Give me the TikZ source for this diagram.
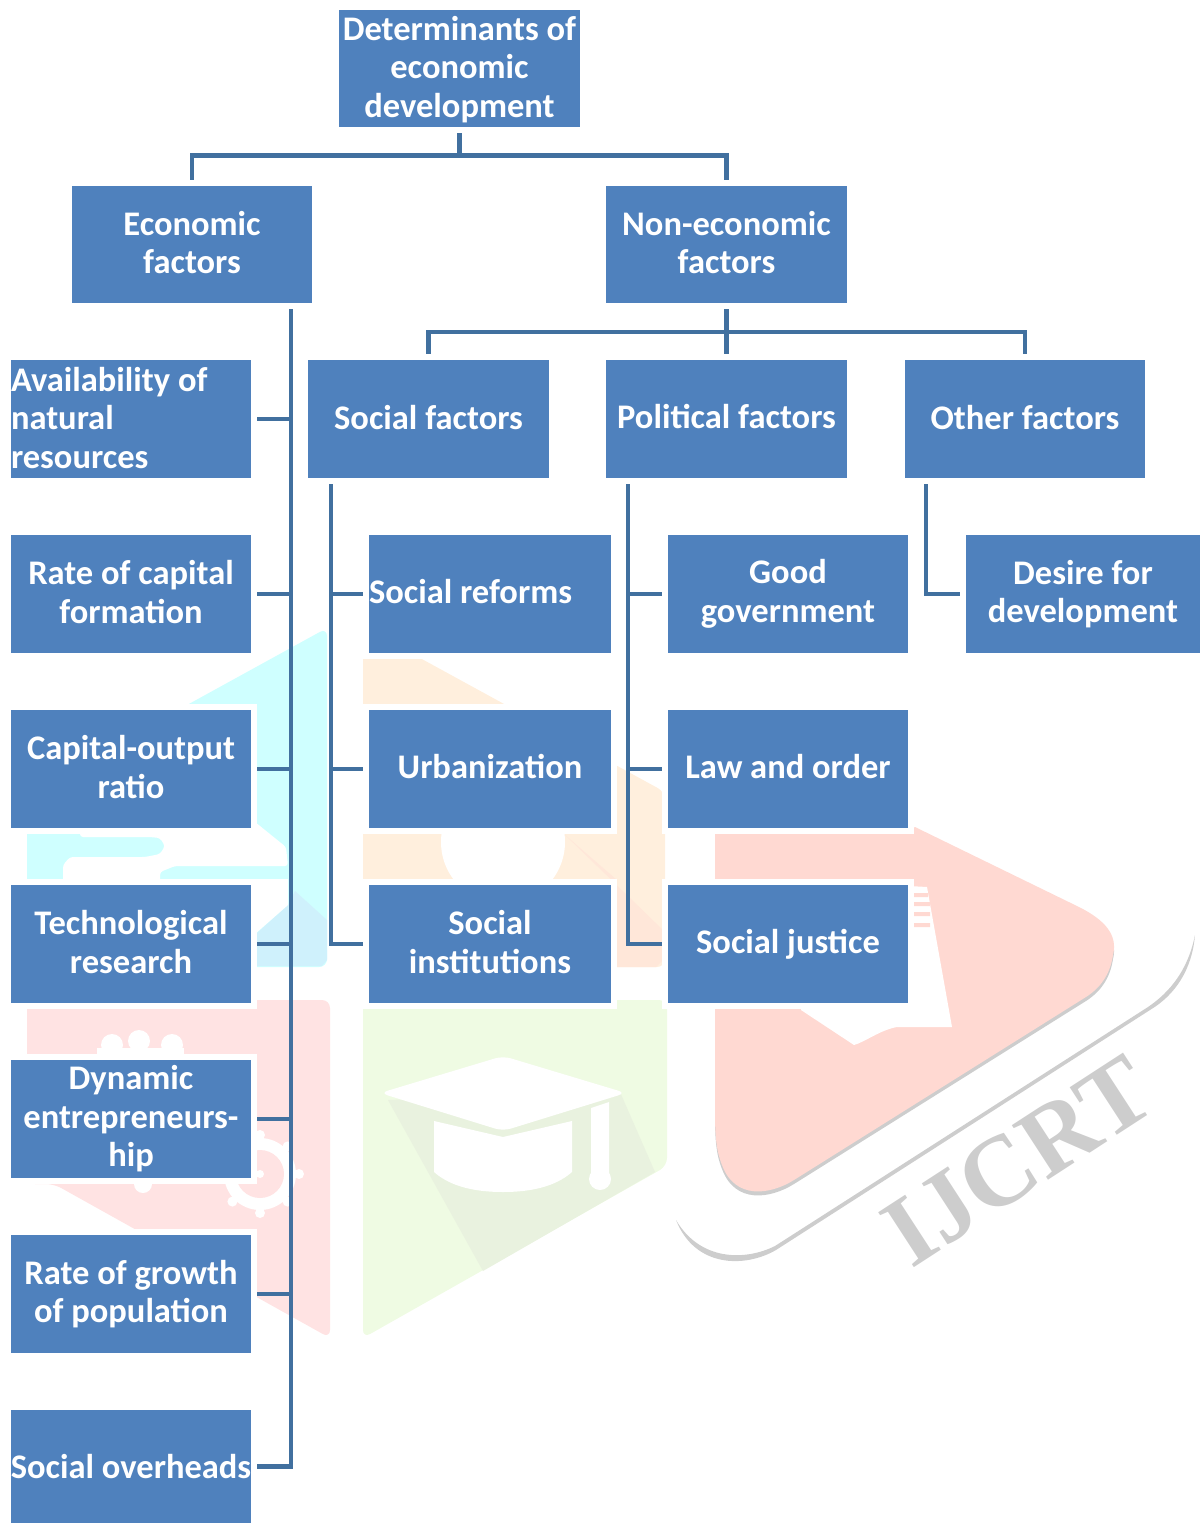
\documentclass[tikz,border=0pt]{standalone}
\usepackage{fontspec}
\setmainfont{Carlito}
\newfontfamily\wmfont{Liberation Serif}
\definecolor{boxblue}{HTML}{4F81BD}
\definecolor{linkblue}{HTML}{41709F}
\definecolor{wmcyan}{HTML}{CFFFFF}
\definecolor{wmcyand}{HTML}{CFF1FC}
\definecolor{wmorange}{HTML}{FFEFDD}
\definecolor{wmoranged}{HTML}{FFE7D9}
\definecolor{wmpink}{HTML}{FFE3E3}
\definecolor{wmgreen}{HTML}{EFFBE3}
\definecolor{wmgreend}{HTML}{E9F2DF}
\definecolor{wmsalmon}{HTML}{FFD9D2}
\definecolor{wmgrey}{HTML}{CDCDCD}
\tikzset{
  boxnode/.style={rectangle,fill=boxblue,draw=none,inner sep=0pt,text=white,align=center,
    font=\fontsize{34.5}{38.5}\selectfont\bfseries,
    preaction={draw=white,line width=12pt}},
  link/.style={draw=linkblue,line width=4.5pt,line join=miter},
  gapA/.style={shorten <=6pt},
  gapB/.style={shorten >=6pt},
  gapAB/.style={shorten <=6pt,shorten >=6pt}
}
\newcommand\bx[6]{%
  \node[boxnode,minimum width=#4pt-#2pt,minimum height=#5pt-#3pt] (#1) at ({(#2+#4)/2},{(#3+#5)/2}) {#6};}
\newcommand\bxl[6]{%
  \node[boxnode,align=flush left,text width=#4pt-#2pt,minimum height=#5pt-#3pt] (#1) at ({(#2+#4)/2},{(#3+#5)/2}) {#6};}
% invisible struts that trim the vertical position of a label in its box
\newcommand\up[1]{\rule[-#1pt]{0pt}{#1pt}}
\newcommand\dn[1]{\rule{0pt}{#1pt}}
\begin{document}
\begin{tikzpicture}[x=1pt,y=-1pt]
\useasboundingbox (0,0) rectangle (1200,1523);
% ---- watermark ----
% cyan tile
\fill[wmcyan,rounded corners=8pt] (327,628) -- (27,793) -- (27,967) -- (327,967) -- cycle;
\fill[wmcyand] (295,891) -- (327,920) -- (327,960) -- (322,966) -- (256,966) -- (256,934) -- (288,905) -- cycle;
\fill[white,rounded corners=3pt] (63,885) -- (63,865) -- (70,857) -- (145,857) -- (160,854) -- (165,846) -- (160,838) -- (150,837) -- (80,837) -- (80,826) -- (255,822) -- (286,847) -- (288,866) -- (175,866) -- (160,872) -- (160,885) -- cycle;
\fill[white] (160,879) -- (288,879) -- (288,905) -- (255,934) -- (255,885) -- (160,885) -- cycle;
% orange tile
\fill[wmorange] (363,629) -- (363,658) -- (420,658) [rounded corners=8pt] -- (665,792) -- (665,967) -- (363,967) [sharp corners] -- cycle;
\fill[wmoranged] (564,834) -- (663,930) -- (663,960) -- (656,967) -- (617,967) -- (617,880) -- cycle;
\fill[white] (503,842) circle (62pt);
% pink tile
\fill[wmpink,rounded corners=8pt] (27,1000) -- (330,1000) -- (330,1338) -- (54,1184) -- (27,1184) -- cycle;
\fill[white] (112,1045) circle (11pt) (139,1041) circle (11pt) (172,1045) circle (11pt);
\fill[white] (97,1048) rectangle (184,1062);
\fill[white] (143,1184) circle (9pt);
\fill[white] (260,1174) circle (36pt);
\foreach \a in {0,45,...,315}{\fill[white] (260,1174) ++(\a:39pt) circle (5pt);}
\fill[wmpink] (260,1174) circle (24pt);
\fill[white] (260,1174) circle (4pt);
% green tile
\fill[wmgreen,rounded corners=8pt] (363,1000) -- (667,1000) -- (667,1166) -- (363,1338) -- cycle;
\fill[wmgreend] (388,1100) -- (483,1271) -- (655,1172) -- (620,1092) -- cycle;
\fill[white,rounded corners=8pt] (380,1093) -- (503,1056) -- (626,1093) -- (503,1131) -- cycle;
\fill[white] (434,1121) -- (503,1137) -- (572,1121) -- (572,1172) .. controls (555,1187) and (530,1192) .. (503,1192) .. controls (476,1192) and (451,1187) .. (434,1172) -- cycle;
\fill[white] (591,1108) -- (609,1102) -- (609,1178) -- (591,1178) -- cycle;
\fill[white] (600,1179) circle (11pt);
% salmon play shape, its shadow and swoosh
\begin{scope}[yshift=-4pt]
\fill[wmgrey] (715,833) -- (905,833) -- (915,827) -- (1079,907) .. controls (1105,920) and (1118,935) .. (1113,955) .. controls (1110,975) and (1100,988) .. (1086,997) -- (794,1180) .. controls (770,1195) and (735,1200) .. (722,1165) .. controls (716,1150) and (715,1135) .. (715,1110) -- cycle;
\end{scope}
\fill[wmsalmon] (715,833) -- (905,833) -- (915,827) -- (1079,907) .. controls (1105,920) and (1118,935) .. (1113,955) .. controls (1110,975) and (1100,988) .. (1086,997) -- (794,1180) .. controls (770,1195) and (735,1200) .. (722,1165) .. controls (716,1150) and (715,1135) .. (715,1110) -- cycle;
\fill[wmgrey] (1195,935) .. controls (1192,970) and (1175,995) .. (1150,1010) -- (776,1250) .. controls (745,1268) and (695,1268) .. (676,1220) .. controls (700,1261) and (745,1261) .. (775,1246) -- (1148,1007) .. controls (1170,992) and (1188,970) .. (1195,935) -- cycle;
\fill[white] (800,880) -- (927,887) -- (952,1027) -- (897,1027) .. controls (880,1030) and (865,1042) .. (854,1045) -- (801,1010) -- cycle;
\fill[wmsalmon] (914,893) rectangle (928,897) (914,902) rectangle (930,906) (914,912) rectangle (930,916) (914,923) rectangle (930,927);
\node[text=wmgrey,font=\wmfont\fontsize{100}{100}\selectfont\bfseries,rotate=33,inner sep=0pt] (wm) at (1018,1161) {IJCRT};
% ---- boxes ----
\bx{root}{339}{10}{580}{127}{\dn{26}Determinants of\\economic\\development}
\bx{eco}{72}{186}{312}{303}{Economic\\factors\up{4.5}}
\bx{non}{606}{186}{847}{303}{Non-economic\\factors\up{4.5}}
\bx{soc}{308}{360}{549}{478}{Social factors\up{2.5}}
\bx{pol}{606}{360}{847}{478}{Political factors\up{4.5}}
\bx{oth}{905}{360}{1145}{478}{Other factors\up{2.5}}
\bxl{nat}{11}{360}{251}{478}{Availability of\\natural\\resources\up{2.5}}
\bx{cap}{11}{535}{251}{653}{Rate of capital\\formation\up{4.5}}
\bx{cor}{11}{710}{251}{828}{Capital-output\\ratio\up{4.5}}
\bx{tec}{11}{885}{251}{1003}{Technological\\research\up{4.5}}
\bx{dyn}{11}{1060}{251}{1178}{\dn{24}Dynamic\\entrepreneurs-\\hip}
\bx{gro}{11}{1235}{251}{1353}{Rate of growth\\of population}
\bx{ove}{11}{1410}{251}{1523}{Social overheads}
\bxl{ref}{369}{535}{611}{653}{Social reforms\up{4.5}}
\bx{urb}{369}{710}{611}{828}{Urbanization\up{4.5}}
\bx{ins}{369}{885}{611}{1003}{Social\\institutions\up{4.5}}
\bx{gov}{668}{535}{908}{653}{\dn{24}Good\\government}
\bx{law}{668}{710}{908}{828}{Law and order\up{4.5}}
\bx{jus}{668}{885}{908}{1003}{Social justice}
\bx{des}{966}{535}{1200}{653}{Desire for\\development}
% ---- connectors ----
\coordinate (rootbar) at (459.5,155.5);
\coordinate (nonbar) at (726.5,332);
\coordinate (trunk) at (291,303);
\coordinate (socbar) at (331,478);
\coordinate (polbar) at (628,478);
\coordinate (othbar) at (926,478);
\draw[link,gapA] (root.south) -- (rootbar);
\draw[link,gapAB] (eco.north) |- (rootbar) -| (non.north);
\draw[link,gapA] (non.south) -- (nonbar);
\draw[link,gapB] (nonbar) -- (pol.north);
\draw[link,gapAB] (soc.north) |- (nonbar) -| (oth.north);
\draw[link,gapA] (trunk) -- (trunk |- ove.east) -- ([xshift=6pt]ove.east);
\foreach \n in {nat,cap,cor,tec,dyn,gro}{\draw[link,gapA] (\n.east) -- (\n.east -| trunk);}
\draw[link,gapAB] (socbar) |- (ins.west);
\foreach \n in {ref,urb}{\draw[link,gapB] (\n.west -| socbar) -- (\n.west);}
\draw[link,gapAB] (polbar) |- (jus.west);
\foreach \n in {gov,law}{\draw[link,gapB] (\n.west -| polbar) -- (\n.west);}
\draw[link,gapAB] (othbar) |- (des.west);
\end{tikzpicture}
\end{document}
